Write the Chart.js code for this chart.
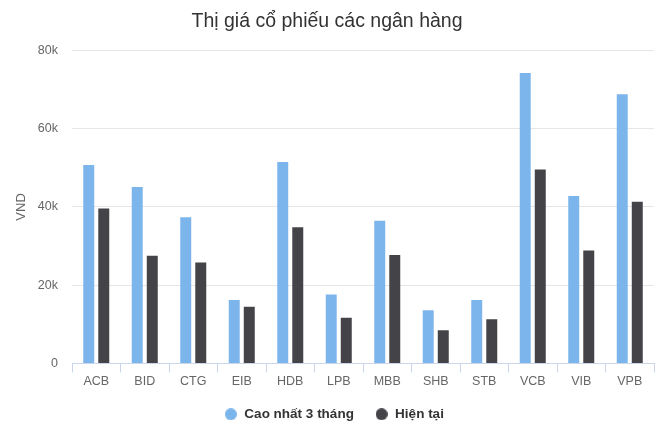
<!DOCTYPE html>
<html>
<head>
<meta charset="utf-8">
<script src="https://cdn.jsdelivr.net/npm/chart.js@4.4.1/dist/chart.umd.min.js"></script>
<style>
    html, body { margin: 0; padding: 0; background: #fff; }
    #wrap { width: 665px; height: 443px; }
</style>
</head>
<body>
<div id="wrap"><canvas id="bank-chart"></canvas></div>
<script>
// du lieu doc tu hinh
const banks = ['ACB', 'BID', 'CTG', 'EIB', 'HDB', 'LPB', 'MBB', 'SHB', 'STB', 'VCB', 'VIB', 'VPB'];
const high_3m = [50700, 45100, 37400, 16200, 51500, 17600, 36500, 13600, 16200, 74200, 42800, 68800];
const current = [39600, 27500, 25800, 14500, 34800, 11700, 27700, 8500, 11300, 49600, 28900, 41300];
const series_names = ['Cao nhất 3 tháng', 'Hiện tại'];
const y_ticks = [0, 20000, 40000, 60000, 80000];

const FONT = '"Liberation Sans", Arial, sans-serif';

// cham tron cho chu thich (12px)
function dot(color) {
    const c = document.createElement('canvas');
    c.width = 12;
    c.height = 12;
    const ctx = c.getContext('2d');
    ctx.fillStyle = color;
    ctx.beginPath();
    ctx.arc(6, 6, 6, 0, Math.PI * 2);
    ctx.fill();
    return c;
}

// day chu thich sang phai mot chut cho giong hinh goc
const legend_shift = {
    id: 'legend_shift',
    afterLayout(chart) {
        chart.legend.left += 7;
        chart.legend.right += 7;
    }
};

function make_chart() {
    const container = document.getElementById('bank-chart');
    const config = {
        type: 'bar',
        data: {
            labels: banks,
            datasets: [
                {
                    label: series_names[0],
                    data: high_3m,
                    backgroundColor: '#7cb5ec',
                    pointStyle: dot('#7cb5ec'),
                    barPercentage: 0.73,
                    categoryPercentage: 0.62
                },
                {
                    label: series_names[1],
                    data: current,
                    backgroundColor: '#434348',
                    pointStyle: dot('#434348'),
                    barPercentage: 0.73,
                    categoryPercentage: 0.62
                }
            ]
        },
        options: {
            responsive: true,
            maintainAspectRatio: false,
            animation: false,
            layout: { padding: { left: 0, right: 11, top: 4, bottom: 12 } },
            scales: {
                x: {
                    grid: {
                        offset: true,
                        drawOnChartArea: false,
                        drawTicks: true,
                        tickLength: 9,
                        color: '#ccd6eb'
                    },
                    border: { color: '#ccd6eb' },
                    ticks: {
                        color: '#666666',
                        font: { family: FONT, size: 12.5 },
                        padding: 2
                    },
                    // ep truc x thap hon de vung ve xuong sat chu thich
                    afterFit: (axis) => { axis.height = axis.height - 5; }
                },
                y: {
                    min: 0,
                    max: 80000,
                    afterBuildTicks: (axis) => {
                        axis.ticks = y_ticks.map(v => ({ value: v }));
                    },
                    afterFit: (axis) => { axis.width = 72; },
                    grid: { color: '#e6e6e6', drawTicks: false },
                    border: { display: false },
                    ticks: {
                        color: '#666666',
                        font: { family: FONT, size: 12.5 },
                        padding: 14,
                        callback: (v) => v === 0 ? '0' : (v / 1000) + 'k'
                    },
                    title: {
                        display: true,
                        text: 'VND',
                        color: '#666666',
                        font: { family: FONT, size: 13 },
                        padding: { top: 14, bottom: 0 }
                    }
                }
            },
            plugins: {
                title: {
                    display: true,
                    text: 'Thị giá cổ phiếu các ngân hàng',
                    color: '#333333',
                    font: { family: FONT, size: 19.5, weight: 'normal' },
                    padding: { top: 6, bottom: 17 }
                },
                legend: {
                    position: 'bottom',
                    labels: {
                        usePointStyle: true,
                        boxHeight: 13.5,
                        padding: 21,
                        color: '#333333',
                        font: { family: FONT, size: 13.5, weight: 'bold' }
                    }
                },
                tooltip: { enabled: false }
            }
        },
        plugins: [legend_shift]
    };
    return new Chart(container, config);
}

make_chart();
</script>
</body>
</html>
